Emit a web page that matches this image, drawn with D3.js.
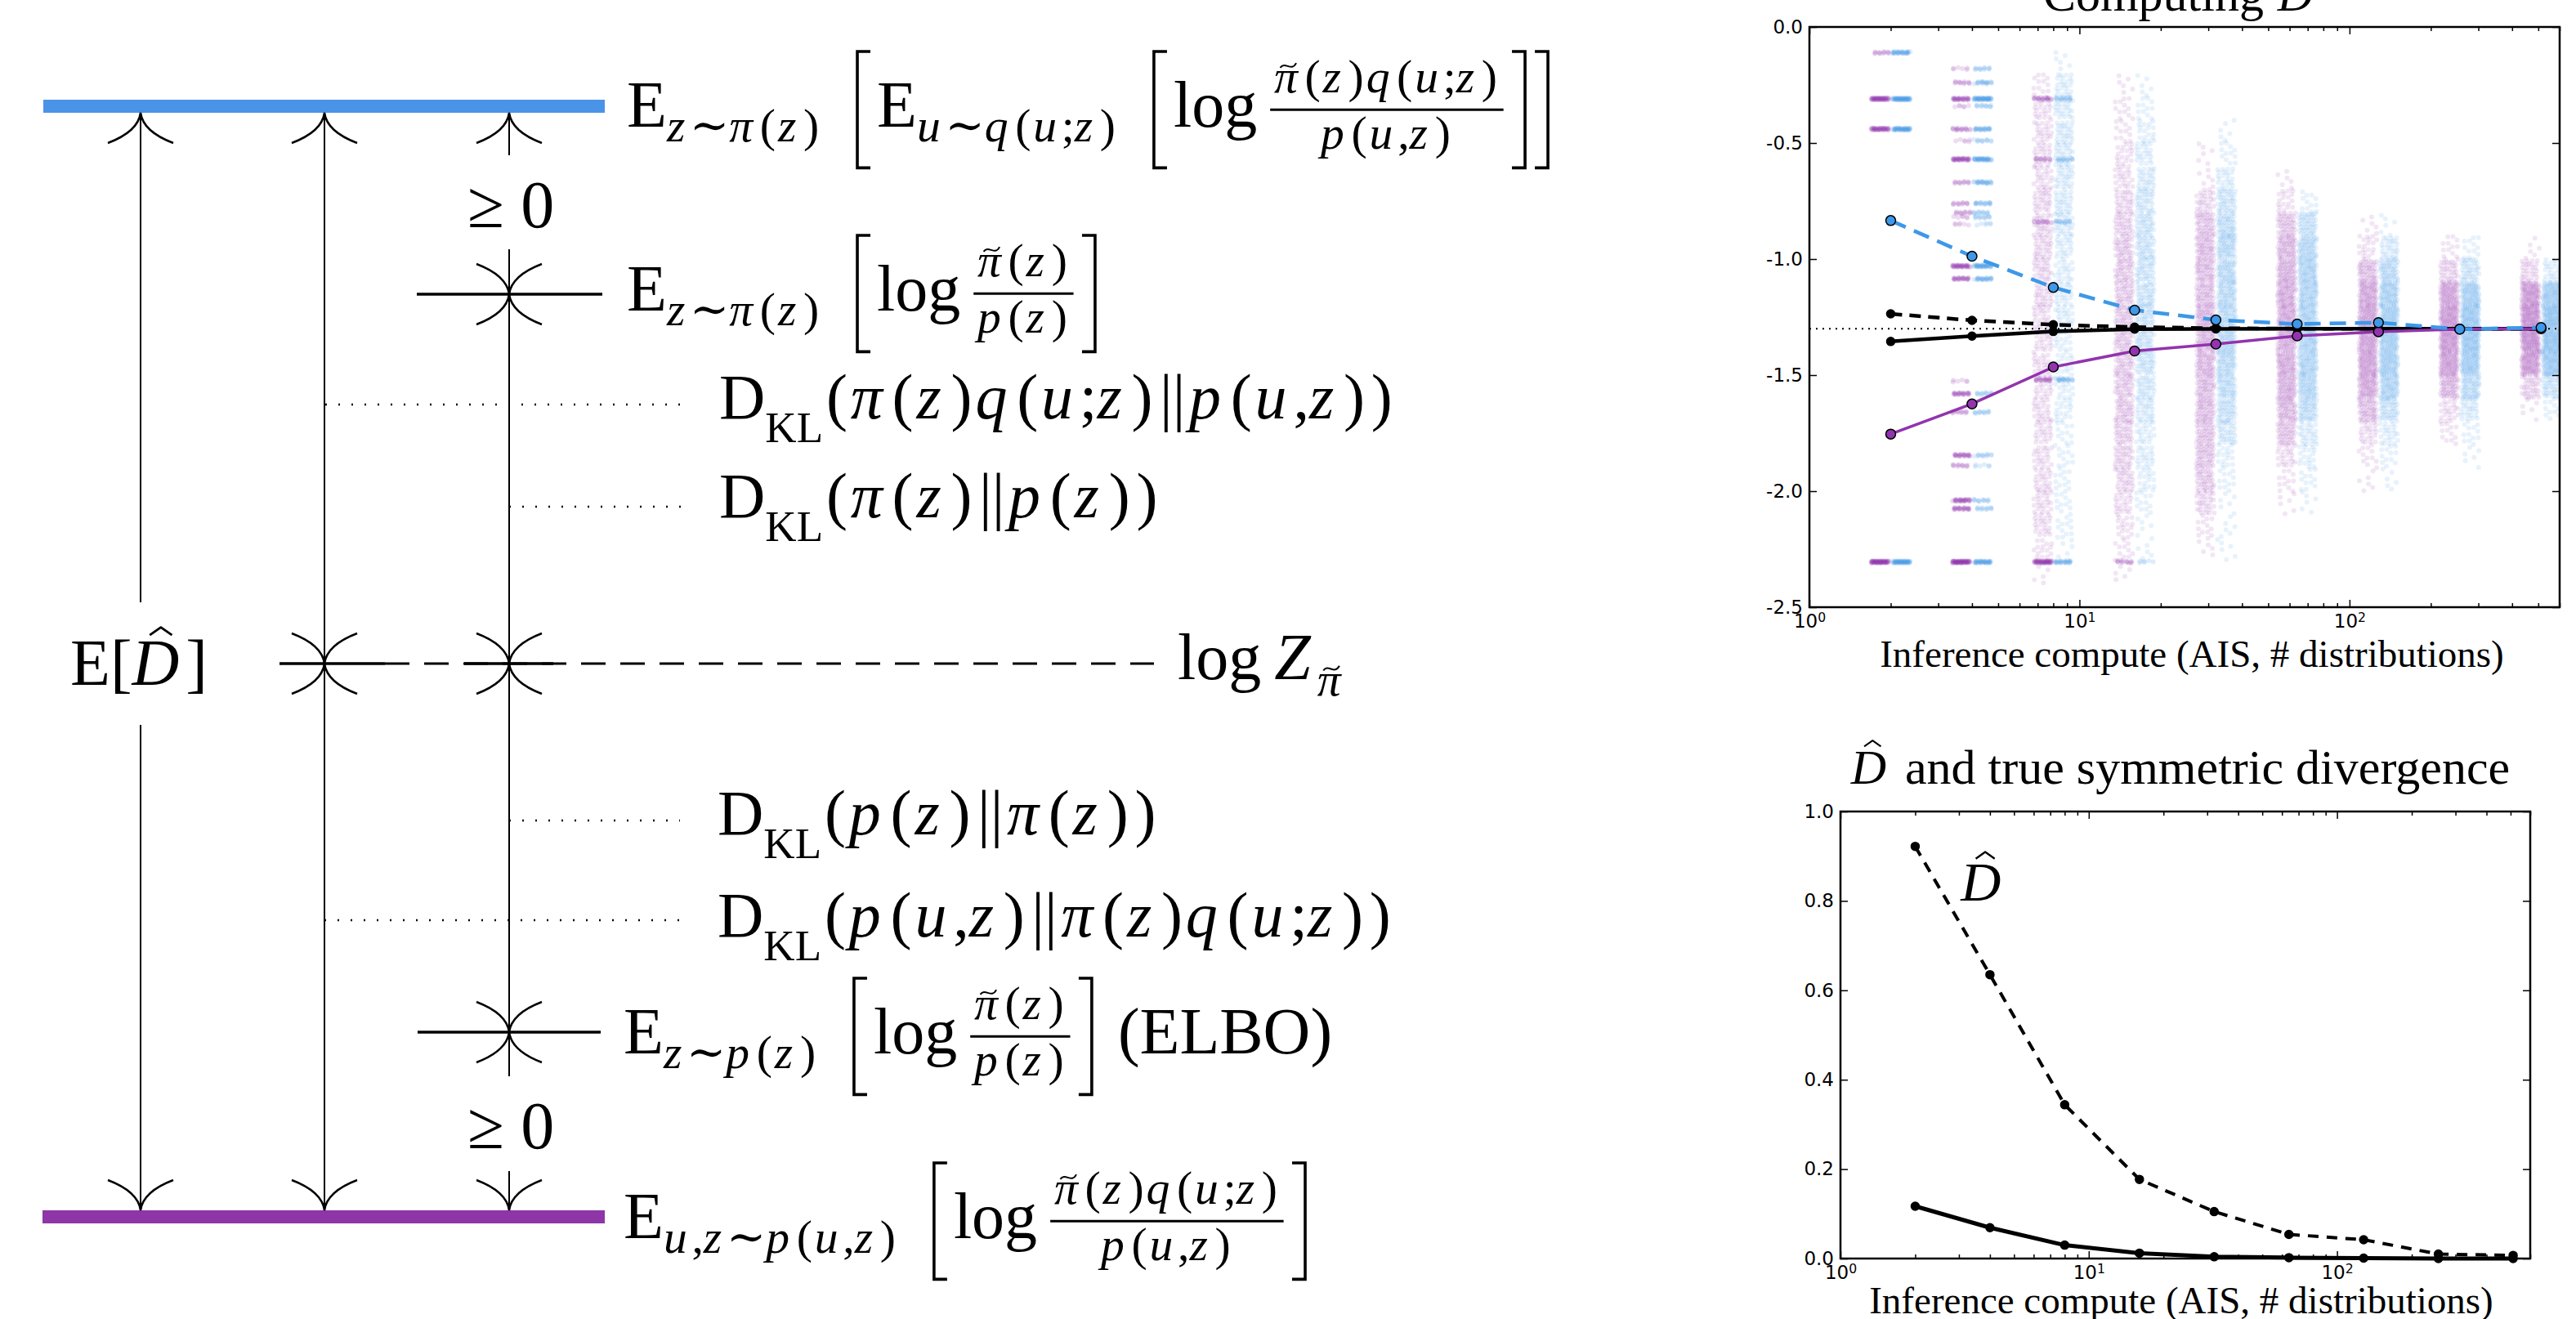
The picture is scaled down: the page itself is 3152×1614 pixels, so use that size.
<!DOCTYPE html>
<html>
<head>
<meta charset="utf-8">
<script src="https://cdn.jsdelivr.net/npm/d3@7"></script>
<style>
body { margin: 0; background: #fff; }
text { fill: #000; }
.math text { font-family: 'Liberation Serif', 'DejaVu Serif', serif; }
.tick text { font-family: 'DejaVu Sans', sans-serif; font-size: 23px; }
.tick line { stroke: #000; stroke-width: 1.5; }
</style>
</head>
<body>
<svg id="fig" width="3152" height="1614"></svg>
<script>
// ---- data ----
var steps = [2, 4, 8, 16, 32, 64, 128, 256, 512];
var logZ = -1.30;
var blueEst = [-0.834, -0.988, -1.122, -1.220, -1.262, -1.280, -1.274, -1.302, -1.295];
var purpleEst = [-1.754, -1.624, -1.465, -1.396, -1.366, -1.331, -1.313, -1.302, -1.300];
var blackDashed = [-1.236, -1.264, -1.283, -1.293, -1.298, -1.300, -1.300, -1.300, -1.300];
var blackSolid = [-1.355, -1.332, -1.312, -1.302, -1.301, -1.300, -1.300, -1.300, -1.300];

var dhatDiv = [0.922, 0.635, 0.344, 0.177, 0.105, 0.054, 0.042, 0.010, 0.007];
var trueDiv = [0.117, 0.069, 0.030, 0.012, 0.004, 0.002, 0.001, 0.000, 0.000];

// discrete bands of samples: [value, purple weight, blue weight]
var bands = {
  2: [[-0.11, 2, 5], [-0.31, 8, 8], [-0.44, 7, 7], [-2.305, 10, 8]],
  4: [[-0.18, 1, 2], [-0.24, 2, 3], [-0.31, 5, 7], [-0.34, 1, 2], [-0.44, 3, 4], [-0.49, 1, 2],
      [-0.57, 6, 6], [-0.67, 2, 4], [-0.76, 2, 3], [-0.80, 2, 2], [-0.82, 1, 2], [-0.85, 1, 1],
      [-1.03, 6, 6], [-1.085, 4, 4], [-1.525, 1, 0], [-1.58, 4, 2], [-1.66, 2, 2], [-1.845, 4, 2],
      [-1.89, 2, 1], [-2.04, 5, 2], [-2.075, 4, 2], [-2.305, 10, 6]],
  8: [[-0.31, 3, 2], [-0.57, 2, 2], [-0.84, 2, 2], [-1.52, 3, 3], [-2.305, 8, 4]],
  16: [[-2.305, 2, 1]]
};
// sample clouds, histogram per 0.1 bin starting at -0.1 going down
var cloudSteps = [8, 16, 32, 64, 128, 256, 512];
var purpleCloud = [
  [0,2,4,4,4,4,5,5,5,5,5,4,4,4,4,4,4,4,4,4,4,3,1],
  [0,1,2,2,3,4,5,6,7,7,7,7,7,7,7,7,6,6,5,4,3,2,1],
  [0,0,0,0,1,1,5,8,9,9,9,10,10,10,9,9,8,8,7,5,2,1,0],
  [0,0,0,0,0,1,3,8,10,11,12,12,12,12,11,10,8,4,2,1,0,0,0],
  [0,0,0,0,0,0,0,1,3,9,13,14,14,14,13,9,4,2,1,0,0,0,0],
  [0,0,0,0,0,0,0,0,2,6,14,16,16,15,10,4,2,0,0,0,0,0,0],
  [0,0,0,0,0,0,0,0,1,5,16,18,18,16,6,1,0,0,0,0,0,0,0]
];
var blueCloud = [
  [1,4,5,5,5,5,5,5,4,4,4,4,3,3,3,3,2,2,2,2,2,1,0],
  [0,1,2,3,4,5,6,7,7,7,7,7,7,7,6,5,4,4,3,2,1,1,0],
  [0,0,0,1,2,4,7,9,10,10,10,10,10,10,9,8,6,3,2,1,1,1,0],
  [0,0,0,0,0,0,2,8,11,12,12,12,12,12,11,9,5,3,2,1,0,0,0],
  [0,0,0,0,0,0,0,1,5,10,13,14,14,14,12,8,4,2,1,0,0,0,0],
  [0,0,0,0,0,0,0,0,2,7,14,16,16,15,10,5,2,1,0,0,0,0,0],
  [0,0,0,0,0,0,0,0,0,4,15,18,18,16,7,2,0,0,0,0,0,0,0]
];
var binTop = -0.1, binStep = 0.1;

var yTicksTop = [0, -0.5, -1.0, -1.5, -2.0, -2.5];
var yTicksBot = [0, 0.2, 0.4, 0.6, 0.8, 1.0];
var xMajor = [1, 10, 100];
var xLabel = "Inference compute (AIS, # distributions)";

var purple = "#9234ad", blue = "#3d98e8";
var purpleBar = "#8e35a8", blueBar = "#4a94e8";

var svg = d3.select("#fig");

// ---- small math typesetter ----
function row(g, x, y, items, size) {
  items.forEach(function(it) { x = put(g, x, y, it, size); });
  return x;
}
function accent(g, cx, y, size, kind) {
  var a = size * 0.17, h = size * 0.05;
  var d = kind === "hat"
    ? "M" + (cx - a) + "," + (y) + "L" + cx + "," + (y - size * 0.12) + "L" + (cx + a) + "," + y
    : "M" + (cx - a) + "," + (y + h) + "C" + (cx - a * 0.4) + "," + (y - h * 2) + " " + (cx + a * 0.4) + "," + (y + h * 3) + " " + (cx + a) + "," + (y - h);
  g.append("path").attr("d", d).attr("fill", "none").attr("stroke", "#000")
    .attr("stroke-width", size * 0.035).attr("stroke-linejoin", "round");
}
function put(g, x, y, it, size) {
  if (typeof it === "string") it = {r: it};
  if (it.sp !== undefined) return x + it.sp * size;
  if (it.sub) return row(g, x, y + size * (it.dy || 0.22), it.sub, size * (it.k || 0.72));
  if (it.frac) {
    var s = size * 0.72, bar = y - size * 0.26, pad = size * 0.06;
    var gn = g.append("g"), gd = g.append("g");
    var wn = row(gn, 0, bar - size * 0.26, it.frac[0], s);
    var wd = row(gd, 0, bar + size * 0.6, it.frac[1], s);
    var w = Math.max(wn, wd) + 2 * pad;
    gn.attr("transform", "translate(" + (x + (w - wn) / 2) + ",0)");
    gd.attr("transform", "translate(" + (x + (w - wd) / 2) + ",0)");
    g.append("line").attr("x1", x).attr("x2", x + w).attr("y1", bar).attr("y2", bar)
      .attr("stroke", "#000").attr("stroke-width", size * 0.038);
    return x + w + size * 0.08;
  }
  if (it.br) {
    var t = y - size * 1.15, b = y + size * 0.63, bw = size * 0.2, x0 = x + size * 0.05;
    var d = it.br === "["
      ? "M" + (x0 + bw) + "," + t + "H" + x0 + "V" + b + "H" + (x0 + bw)
      : "M" + x0 + "," + t + "H" + (x0 + bw) + "V" + b + "H" + x0;
    g.append("path").attr("d", d).attr("fill", "none").attr("stroke", "#000").attr("stroke-width", size * 0.045);
    return x0 + bw + size * 0.1;
  }
  var ital = it.i !== undefined, s = ital ? it.i : it.r;
  var isP = s === "(" || s === ")", isBar = s === "||";
  var x1 = x + (isP ? size * 0.05 : 0) + (isBar ? size * 0.06 : 0);
  var t = g.append("text").attr("x", x1).attr("y", y).attr("font-size", size)
    .attr("font-style", ital ? "italic" : null).text(s);
  var w = t.node().getComputedTextLength();
  if (it.acc === "hat") accent(g, x1 + w / 2 + size * 0.08, y - size * 0.76, size, "hat");
  if (it.acc === "tilde") accent(g, x1 + w / 2 + size * 0.05, y - size * 0.58, size, "tilde");
  return x1 + w + (ital ? size * 0.1 : 0) + (isP ? size * 0.05 : 0) + (isBar ? size * 0.06 : 0);
}
function I(c, acc) { return {i: c, acc: acc}; }
function paren(inner) { return ["("].concat(inner, [")"]); }
var piT = I("π", "tilde");
var zz = paren([I("z")]);
var num2 = [piT].concat(zz, [I("q")], paren([I("u"), ";", I("z")]));
var denUZ = [I("p")].concat(paren([I("u"), ",", I("z")]));

// ---- left schematic ----
var dg = svg.append("g");
var lx = [172, 397, 623];
dg.append("rect").attr("x", 53).attr("y", 122).attr("width", 687).attr("height", 16).attr("fill", blueBar);
dg.append("rect").attr("x", 52).attr("y", 1481).attr("width", 688).attr("height", 16).attr("fill", purpleBar);

var vsegs = [[0, 138, 737], [0, 887, 1481], [1, 138, 1481], [2, 138, 190], [2, 305, 1317], [2, 1433, 1481]];
vsegs.forEach(function(s) {
  dg.append("line").attr("x1", lx[s[0]]).attr("x2", lx[s[0]]).attr("y1", s[1]).attr("y2", s[2])
    .attr("stroke", "#000").attr("stroke-width", 2);
});
function tip(x, y, dir) { // dir -1: points up, +1 points down
  var w = 40, h = 37 * -dir;
  var d = "M" + (x - w) + "," + (y + h) + "Q" + (x - 3) + "," + (y + h * 0.62) + " " + x + "," + y +
          "Q" + (x + 3) + "," + (y + h * 0.62) + " " + (x + w) + "," + (y + h);
  dg.append("path").attr("d", d).attr("fill", "none").attr("stroke", "#000").attr("stroke-width", 2.5);
}
lx.forEach(function(x) { tip(x, 138, -1); tip(x, 1481, 1); });
var crosses = [[623, 360, 510, 737], [397, 812, 342, 471], [623, 812, 568, 677], [623, 1263, 511, 735]];
dg.append("line").attr("x1", 471).attr("x2", 1412).attr("y1", 812).attr("y2", 812)
  .attr("stroke", "#000").attr("stroke-width", 3).attr("stroke-dasharray", "30,18");
crosses.forEach(function(c) {
  tip(c[0], c[1], 1); tip(c[0], c[1], -1);
  dg.append("line").attr("x1", c[2]).attr("x2", c[3]).attr("y1", c[1]).attr("y2", c[1])
    .attr("stroke", "#000").attr("stroke-width", 3.5);
});
[[398, 840, 495], [623, 840, 620], [623, 832, 1004], [397, 832, 1126]].forEach(function(s) {
  dg.append("line").attr("x1", s[0]).attr("x2", s[1]).attr("y1", s[2]).attr("y2", s[2])
    .attr("stroke", "#000").attr("stroke-width", 2.5).attr("stroke-dasharray", "2,14");
});

var mg = dg.append("g").attr("class", "math");
var ssp = {sp: 0.5}, KL = {sub: ["KL"], dy: 0.37, k: 0.68};
row(mg, 767, 155, ["E", {sub: [I("z"), "∼", I("π")].concat(zz)}, ssp, {br: "["},
  "E", {sub: [I("u"), "∼", I("q")].concat(paren([I("u"), ";", I("z")]))}, ssp, {br: "["},
  "log", {sp: 0.2}, {frac: [num2, denUZ]}, {br: "]"}, {br: "]"}], 80);
row(mg, 767, 380, ["E", {sub: [I("z"), "∼", I("π")].concat(zz)}, ssp, {br: "["},
  "log", {sp: 0.2}, {frac: [[piT].concat(zz), [I("p")].concat(zz)]}, {br: "]"}], 80);
row(mg, 880, 512, ["D", KL].concat(paren([I("π")].concat(zz, [I("q")], paren([I("u"), ";", I("z")]), ["||", I("p")], paren([I("u"), ",", I("z")])))), 78);
row(mg, 880, 633, ["D", KL].concat(paren([I("π")].concat(zz, ["||", I("p")], zz))), 78);
row(mg, 1441, 831, ["log", {sp: 0.2}, I("Z"), {sub: [piT], dy: 0.25}], 80);
row(mg, 878, 1021, ["D", KL].concat(paren([I("p")].concat(zz, ["||", I("π")], zz))), 78);
row(mg, 878, 1146, ["D", KL].concat(paren([I("p")].concat(paren([I("u"), ",", I("z")]), ["||", I("π")], zz, [I("q")], paren([I("u"), ";", I("z")])))), 78);
row(mg, 763, 1289, ["E", {sub: [I("z"), "∼", I("p")].concat(zz)}, ssp, {br: "["},
  "log", {sp: 0.2}, {frac: [[piT].concat(zz), [I("p")].concat(zz)]}, {br: "]"}, {sp: 0.3}, "(ELBO)"], 80);
row(mg, 763, 1515, ["E", {sub: [I("u"), ",", I("z"), "∼", I("p")].concat(paren([I("u"), ",", I("z")]))}, ssp, {br: "["},
  "log", {sp: 0.2}, {frac: [num2, denUZ]}, {br: "]"}], 80);
[278, 1405].forEach(function(y) {
  mg.append("text").attr("x", 625).attr("y", y).attr("font-size", 82).attr("text-anchor", "middle").text("≥ 0");
});
var eg = mg.append("g");
var ew = row(eg, 0, 838, ["E", "[", I("D", "hat"), "]"], 80);
eg.attr("transform", "translate(" + (170 - ew / 2) + ",0)");

// ---- right charts ----
function frame(g, x, y, yTicks, yFmt) {
  var x0 = x.range()[0], x1 = x.range()[1], y0 = y.range()[0], y1 = y.range()[1];
  var minor = x.ticks().filter(function(v) { return xMajor.indexOf(v) < 0; });
  var bx = g.append("g").attr("transform", "translate(0," + y0 + ")")
    .call(d3.axisBottom(x).tickValues(xMajor).tickSizeInner(-9).tickSizeOuter(0).tickPadding(9).tickFormat(function() { return "10"; }));
  bx.selectAll(".tick text").append("tspan").attr("dy", "-0.45em").attr("font-size", "0.68em")
    .text(function(d) { return Math.round(Math.log10(d)); });
  g.append("g").attr("transform", "translate(0," + y0 + ")")
    .call(d3.axisBottom(x).tickValues(minor).tickSizeInner(-5).tickSizeOuter(0).tickFormat(""));
  g.append("g").attr("transform", "translate(0," + y1 + ")")
    .call(d3.axisTop(x).tickValues(xMajor).tickSizeInner(-9).tickSizeOuter(0).tickFormat(""));
  g.append("g").attr("transform", "translate(0," + y1 + ")")
    .call(d3.axisTop(x).tickValues(minor).tickSizeInner(-5).tickSizeOuter(0).tickFormat(""));
  g.append("g").attr("transform", "translate(" + x0 + ",0)")
    .call(d3.axisLeft(y).tickValues(yTicks).tickSizeInner(-9).tickSizeOuter(0).tickPadding(8).tickFormat(yFmt));
  g.append("g").attr("transform", "translate(" + x1 + ",0)")
    .call(d3.axisRight(y).tickValues(yTicks).tickSizeInner(-9).tickSizeOuter(0).tickFormat(""));
  g.selectAll(".domain").remove();
  g.append("rect").attr("x", x0).attr("y", y1).attr("width", x1 - x0).attr("height", y0 - y1)
    .attr("fill", "none").attr("stroke", "#000").attr("stroke-width", 2.5);
}
var fmt1 = function(v) { return d3.format(".1f")(v).replace("−", "-"); };

function centered(g, cx, y, items, size) {
  var sub = g.append("g").attr("class", "math");
  var w = row(sub, 0, y, items, size);
  sub.attr("transform", "translate(" + (cx - w / 2) + ",0)");
}

// top: computing D-hat
var xa = d3.scaleLog().domain([1, 600]).range([2214, 3132]);
var ya = d3.scaleLinear().domain([-2.5, 0]).range([743, 33]);
var ga = svg.append("g");
ga.append("clipPath").attr("id", "clipA").append("rect")
  .attr("x", 2214).attr("y", 33).attr("width", 918).attr("height", 710);
var sc = ga.append("g").attr("clip-path", "url(#clipA)");
var seq = 0;
function q2() { seq++; return [(0.5 + seq * 0.7548776662) % 1, (0.5 + seq * 0.5698402910) % 1]; }
function dot(cx, cy, col, op) {
  sc.append("circle").attr("cx", cx).attr("cy", cy).attr("r", 3).attr("fill", col).attr("fill-opacity", op);
}
var off = 13, hw = 11;
cloudSteps.forEach(function(st, j) {
  var cx = xa(st);
  [[purple, -off, purpleCloud[j]], [blue, off, blueCloud[j]]].forEach(function(s) {
    s[2].forEach(function(c, i) {
      for (var n = 0; n < c * 6; n++) {
        var f = q2();
        dot(cx + s[1] + (f[0] - 0.5) * 2 * hw, ya(binTop - binStep * (i + f[1])), s[0], 0.12);
      }
    });
  });
});
Object.keys(bands).forEach(function(k) {
  var cx = xa(+k);
  bands[k].forEach(function(b) {
    [[purple, -off, b[1]], [blue, off, b[2]]].forEach(function(s) {
      for (var n = 0; n < s[2] * 6; n++) {
        var f = q2();
        dot(cx + s[1] + (f[0] - 0.5) * 2 * hw, ya(b[0]) + (f[1] - 0.5) * 3, s[0], 0.16);
      }
    });
  });
});
ga.append("line").attr("x1", 2214).attr("x2", 3132).attr("y1", ya(logZ)).attr("y2", ya(logZ))
  .attr("stroke", "#000").attr("stroke-width", 2).attr("stroke-dasharray", "2,6");

function series(g, x, y, vals, col, width, dash, r, mfill) {
  var line = d3.line().x(function(d, i) { return x(steps[i]); }).y(function(d) { return y(d); });
  g.append("path").datum(vals).attr("d", line).attr("fill", "none").attr("stroke", col)
    .attr("stroke-width", width).attr("stroke-dasharray", dash);
  g.selectAll(null).data(vals).enter().append("circle")
    .attr("cx", function(d, i) { return x(steps[i]); }).attr("cy", function(d) { return y(d); })
    .attr("r", r).attr("fill", mfill).attr("stroke", "#000").attr("stroke-width", 1.5);
}
series(ga, xa, ya, blackSolid, "#000", 4.5, null, 5, "#000");
series(ga, xa, ya, blackDashed, "#000", 4.5, "14,9", 5, "#000");
series(ga, xa, ya, purpleEst, purple, 3.5, null, 6, purple);
series(ga, xa, ya, blueEst, blue, 4.5, "20,11", 6, blue);
frame(ga, xa, ya, yTicksTop, fmt1);
centered(ga, 2668, 13, ["Computing", {sp: 0.28}, I("D", "hat")], 60);
ga.append("text").attr("x", 2682).attr("y", 816).attr("text-anchor", "middle")
  .attr("font-family", "'Liberation Serif', serif").attr("font-size", 47).text(xLabel);

// bottom: D-hat and true symmetric divergence
var xb = d3.scaleLog().domain([1, 600]).range([2252, 3096]);
var yb = d3.scaleLinear().domain([0, 1]).range([1540, 993]);
var gb = svg.append("g");
series(gb, xb, yb, trueDiv, "#000", 5, null, 5, "#000");
series(gb, xb, yb, dhatDiv, "#000", 4, "13,10", 5, "#000");
frame(gb, xb, yb, yTicksBot, fmt1);
var lb = gb.append("g").attr("class", "math");
row(lb, xb(3.05), yb(0.80), [I("D", "hat")], 68);
centered(gb, 2668, 959, [I("D", "hat"), {sp: 0.28}, "and true symmetric divergence"], 60);
gb.append("text").attr("x", 2669).attr("y", 1607).attr("text-anchor", "middle")
  .attr("font-family", "'Liberation Serif', serif").attr("font-size", 47).text(xLabel);
</script>
</body>
</html>
